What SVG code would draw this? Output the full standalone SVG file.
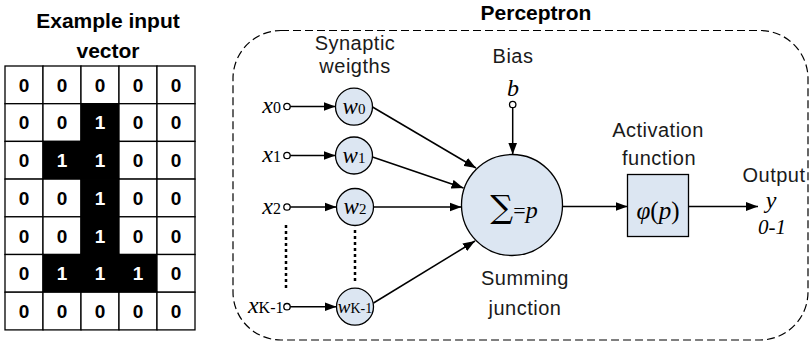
<svg xmlns="http://www.w3.org/2000/svg" width="811" height="342" viewBox="0 0 811 342">
<style>
.title{font-family:"Liberation Sans",Arial,sans-serif;font-weight:bold;font-size:21px;fill:#000}
.lbl{font-family:"Liberation Sans",Arial,sans-serif;font-size:20px;letter-spacing:0.5px;fill:#1a1a1a}
.num{font-family:"Liberation Sans",Arial,sans-serif;font-weight:bold;font-size:19px;text-anchor:middle}
.cell{fill:#fff;stroke:#000;stroke-width:1.3}
.blk{fill:#000;stroke:#000;stroke-width:1.3}
.math{font-family:"Liberation Serif","Times New Roman",serif;font-style:italic;fill:#000}
.sub{font-family:"Liberation Serif","Times New Roman",serif;font-style:normal}
.node{fill:#dce6f2;stroke:#000;stroke-width:1.3}
.term{fill:#fff;stroke:#000;stroke-width:1.3}
.conn{stroke:#000;stroke-width:1.5;fill:none}
.dots{stroke:#000;stroke-width:2.5;stroke-dasharray:3,3;fill:none}
</style>
<defs>
<marker id="arr" markerUnits="userSpaceOnUse" markerWidth="12" markerHeight="10" refX="12" refY="5" orient="auto">
<path d="M0,0.5 L12,5 L0,9.5 z" fill="#000"/>
</marker>
</defs>

<g id="input-vector">
<text class="title" x="108" y="28" text-anchor="middle">Example input</text>
<text class="title" x="108" y="58" text-anchor="middle">vector</text>
<g id="grid">
<rect class="cell" x="5" y="66" width="38" height="37.7"/><rect class="cell" x="43" y="66" width="38" height="37.7"/><rect class="cell" x="81" y="66" width="38" height="37.7"/><rect class="cell" x="119" y="66" width="38" height="37.7"/><rect class="cell" x="157" y="66" width="38" height="37.7"/>
<rect class="cell" x="5" y="103.7" width="38" height="37.7"/><rect class="cell" x="43" y="103.7" width="38" height="37.7"/><rect class="blk" x="81" y="103.7" width="38" height="37.7"/><rect class="cell" x="119" y="103.7" width="38" height="37.7"/><rect class="cell" x="157" y="103.7" width="38" height="37.7"/>
<rect class="cell" x="5" y="141.4" width="38" height="37.7"/><rect class="blk" x="43" y="141.4" width="38" height="37.7"/><rect class="blk" x="81" y="141.4" width="38" height="37.7"/><rect class="cell" x="119" y="141.4" width="38" height="37.7"/><rect class="cell" x="157" y="141.4" width="38" height="37.7"/>
<rect class="cell" x="5" y="179.1" width="38" height="37.7"/><rect class="cell" x="43" y="179.1" width="38" height="37.7"/><rect class="blk" x="81" y="179.1" width="38" height="37.7"/><rect class="cell" x="119" y="179.1" width="38" height="37.7"/><rect class="cell" x="157" y="179.1" width="38" height="37.7"/>
<rect class="cell" x="5" y="216.8" width="38" height="37.7"/><rect class="cell" x="43" y="216.8" width="38" height="37.7"/><rect class="blk" x="81" y="216.8" width="38" height="37.7"/><rect class="cell" x="119" y="216.8" width="38" height="37.7"/><rect class="cell" x="157" y="216.8" width="38" height="37.7"/>
<rect class="cell" x="5" y="254.5" width="38" height="37.7"/><rect class="blk" x="43" y="254.5" width="38" height="37.7"/><rect class="blk" x="81" y="254.5" width="38" height="37.7"/><rect class="blk" x="119" y="254.5" width="38" height="37.7"/><rect class="cell" x="157" y="254.5" width="38" height="37.7"/>
<rect class="cell" x="5" y="292.2" width="38" height="37.7"/><rect class="cell" x="43" y="292.2" width="38" height="37.7"/><rect class="cell" x="81" y="292.2" width="38" height="37.7"/><rect class="cell" x="119" y="292.2" width="38" height="37.7"/><rect class="cell" x="157" y="292.2" width="38" height="37.7"/>
</g>
<g id="grid-values">
<text class="num" x="24" y="91.7">0</text><text class="num" x="62" y="91.7">0</text><text class="num" x="100" y="91.7">0</text><text class="num" x="138" y="91.7">0</text><text class="num" x="176" y="91.7">0</text>
<text class="num" x="24" y="129.4">0</text><text class="num" x="62" y="129.4">0</text><text class="num" x="100" y="129.4" fill="#fff">1</text><text class="num" x="138" y="129.4">0</text><text class="num" x="176" y="129.4">0</text>
<text class="num" x="24" y="167.1">0</text><text class="num" x="62" y="167.1" fill="#fff">1</text><text class="num" x="100" y="167.1" fill="#fff">1</text><text class="num" x="138" y="167.1">0</text><text class="num" x="176" y="167.1">0</text>
<text class="num" x="24" y="204.8">0</text><text class="num" x="62" y="204.8">0</text><text class="num" x="100" y="204.8" fill="#fff">1</text><text class="num" x="138" y="204.8">0</text><text class="num" x="176" y="204.8">0</text>
<text class="num" x="24" y="242.5">0</text><text class="num" x="62" y="242.5">0</text><text class="num" x="100" y="242.5" fill="#fff">1</text><text class="num" x="138" y="242.5">0</text><text class="num" x="176" y="242.5">0</text>
<text class="num" x="24" y="280.2">0</text><text class="num" x="62" y="280.2" fill="#fff">1</text><text class="num" x="100" y="280.2" fill="#fff">1</text><text class="num" x="138" y="280.2" fill="#fff">1</text><text class="num" x="176" y="280.2">0</text>
<text class="num" x="24" y="317.9">0</text><text class="num" x="62" y="317.9">0</text><text class="num" x="100" y="317.9">0</text><text class="num" x="138" y="317.9">0</text><text class="num" x="176" y="317.9">0</text>
</g>
</g>

<g id="perceptron-frame">
<text class="title" x="536" y="20" text-anchor="middle">Perceptron</text>
<rect x="233" y="30.5" width="575" height="309.5" rx="48" ry="48" fill="none" stroke="#000" stroke-width="1.2" stroke-dasharray="8,4"/>
</g>

<g id="labels">
<text class="lbl" x="355" y="50" text-anchor="middle">Synaptic</text>
<text class="lbl" x="355" y="73" text-anchor="middle">weigths</text>
<text class="lbl" x="513" y="63" text-anchor="middle">Bias</text>
<text class="lbl" x="658" y="137" text-anchor="middle">Activation</text>
<text class="lbl" x="659" y="165" text-anchor="middle">function</text>
<text class="lbl" x="525" y="285" text-anchor="middle">Summing</text>
<text class="lbl" x="525" y="315" text-anchor="middle">junction</text>
<text class="lbl" x="774" y="182" text-anchor="middle" letter-spacing="0">Output</text>
</g>

<g id="inputs">
<g id="x0"><text class="math" x="281" y="113" font-size="24" text-anchor="end">x<tspan class="sub" font-size="16">0</tspan></text><circle class="term" cx="287" cy="106.5" r="3.2"/></g>
<g id="x1"><text class="math" x="281" y="162" font-size="24" text-anchor="end">x<tspan class="sub" font-size="16">1</tspan></text><circle class="term" cx="287" cy="155.5" r="3.2"/></g>
<g id="x2"><text class="math" x="281" y="213.5" font-size="24" text-anchor="end">x<tspan class="sub" font-size="16">2</tspan></text><circle class="term" cx="287" cy="207" r="3.2"/></g>
<g id="xK-1"><text class="math" x="283.5" y="313" font-size="24" text-anchor="end">x<tspan class="sub" font-size="16">K-1</tspan></text><circle class="term" cx="287" cy="306.7" r="3.2"/></g>
<g id="bias"><text class="math" x="513" y="96" font-size="24" text-anchor="middle">b</text><circle class="term" cx="512.7" cy="104.5" r="3.2"/></g>
</g>

<g id="weights">
<g id="w0"><circle class="node" cx="354" cy="106.7" r="18.5"/><text class="math" x="354" y="113.5" font-size="23" text-anchor="middle">w<tspan class="sub" font-size="15">0</tspan></text></g>
<g id="w1"><circle class="node" cx="354" cy="155.5" r="18.5"/><text class="math" x="354" y="162.5" font-size="23" text-anchor="middle">w<tspan class="sub" font-size="15">1</tspan></text></g>
<g id="w2"><circle class="node" cx="355" cy="207" r="18.5"/><text class="math" x="355" y="214" font-size="23" text-anchor="middle">w<tspan class="sub" font-size="15">2</tspan></text></g>
<g id="wK-1"><circle class="node" cx="355" cy="306.7" r="18.5"/><text class="math" x="355" y="313" font-size="19" text-anchor="middle">w<tspan class="sub" font-size="14">K-1</tspan></text></g>
</g>

<g id="summing-junction">
<circle class="node" cx="512" cy="205" r="50.5"/>
<text x="514" y="218" text-anchor="middle"><tspan font-family="'DejaVu Serif',serif" font-size="32">∑</tspan><tspan font-family="'Liberation Serif',serif" font-size="22">=</tspan><tspan font-family="'Liberation Serif',serif" font-style="italic" font-size="24">p</tspan></text>
</g>

<g id="activation">
<rect class="node" x="627.5" y="174.5" width="61" height="62"/>
<text x="658" y="219" font-family="'Liberation Serif',serif" font-size="25" text-anchor="middle"><tspan font-style="italic">φ</tspan>(<tspan font-style="italic">p</tspan>)</text>
</g>

<g id="output">
<text class="math" x="771" y="208" font-size="24" text-anchor="middle">y</text>
<text class="math" x="772" y="234" font-size="21" text-anchor="middle">0-1</text>
</g>

<g id="connectors">
<line class="conn" x1="290.2" y1="106.5" x2="335.5" y2="106.5" marker-end="url(#arr)"/>
<line class="conn" x1="290.2" y1="155.5" x2="335.5" y2="155.5" marker-end="url(#arr)"/>
<line class="conn" x1="290.2" y1="207" x2="336.5" y2="207" marker-end="url(#arr)"/>
<line class="conn" x1="290.2" y1="306.7" x2="336.5" y2="306.7" marker-end="url(#arr)"/>
<line class="conn" x1="372.5" y1="107" x2="476" y2="168" marker-end="url(#arr)"/>
<line class="conn" x1="372.5" y1="157" x2="463.5" y2="188" marker-end="url(#arr)"/>
<line class="conn" x1="373.5" y1="207" x2="461.5" y2="207" marker-end="url(#arr)"/>
<line class="conn" x1="373.5" y1="303" x2="475" y2="241" marker-end="url(#arr)"/>
<line class="conn" x1="512.7" y1="107.7" x2="512.7" y2="154.5" marker-end="url(#arr)"/>
<line class="conn" x1="562.5" y1="206.5" x2="627.5" y2="206.5" marker-end="url(#arr)"/>
<line class="conn" x1="688.5" y1="206.5" x2="758" y2="206.5" marker-end="url(#arr)"/>
<line class="dots" x1="286" y1="225" x2="286" y2="288"/>
<line class="dots" x1="355" y1="230" x2="355" y2="284"/>
</g>
</svg>
